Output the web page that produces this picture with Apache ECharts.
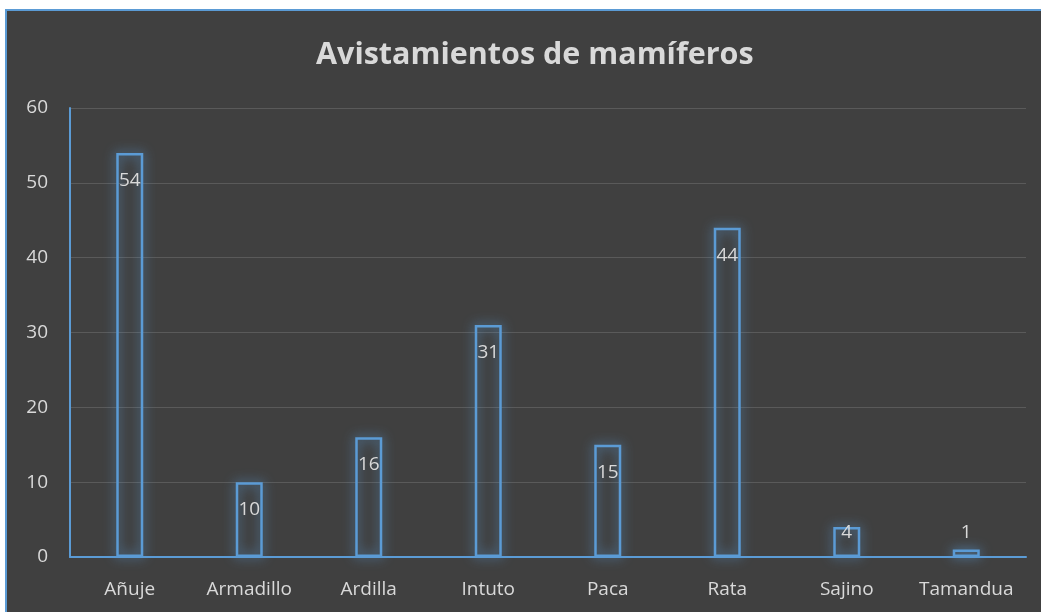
<!DOCTYPE html>
<html><head><meta charset="utf-8">
<script src="https://cdn.jsdelivr.net/npm/echarts@6/dist/echarts.min.js"></script>
<style>
html,body{margin:0;padding:0;background:#fff;width:1041px;height:612px;overflow:hidden}
#box{position:absolute;left:5px;top:9px;width:1040px;height:610px;background:#404040;border:2px solid #5b9bd5;}
#c{position:absolute;left:0;top:0;width:1041px;height:612px}
</style></head><body>
<div id="box"></div>
<div id="c"></div>
<script>
const categories = ['Añuje','Armadillo','Ardilla','Intuto','Paca','Rata','Sajino','Tamandua'];
const values = [54,10,16,31,15,44,4,1];
const yTicks = [0,10,20,30,40,50,60];

const chart = echarts.init(document.getElementById('c'), null, {renderer:'canvas'});
const txt = '#d9d9d9';
const font = 'Open Sans';
const data = values.map(function(v){
  let lab = {position:'insideTop', distance:18};
  if (v < 3) lab = {position:'top', distance:7};
  else if (v < 8) lab = {position:'insideTop', distance:-4};
  return {value:v, label:lab};
});
chart.setOption({
  backgroundColor:'transparent',
  title:{text:'Avistamientos de mamíferos', left:311, top:35,
    textStyle:{color:txt, fontFamily:font, fontWeight:'bold', fontSize:30.5}},
  grid:{left:70, right:15, top:108, bottom:55},
  xAxis:{type:'category', data:categories,
    axisLine:{lineStyle:{color:'#5b9bd5', width:2}},
    axisTick:{show:false},
    axisLabel:{color:txt, fontFamily:font, fontSize:19, margin:23, interval:0}},
  yAxis:{type:'value', min:yTicks[0], max:yTicks[yTicks.length-1], interval:10,
    axisLine:{show:true, lineStyle:{color:'#5b9bd5', width:2}},
    axisTick:{show:false},
    splitLine:{lineStyle:{color:'#5a5a5a', width:1}},
    axisLabel:{color:txt, fontFamily:font, fontSize:19, margin:22}},
  series:[{type:'bar', data:data, barWidth:27,
    itemStyle:{color:'rgba(0,0,0,0)', borderColor:'#5b9bd5', borderWidth:2.5,
      shadowBlur:12, shadowColor:'rgba(91,155,213,1)'},
    label:{show:true, color:txt, fontFamily:font, fontSize:19}
  }]
});
</script></body></html>
